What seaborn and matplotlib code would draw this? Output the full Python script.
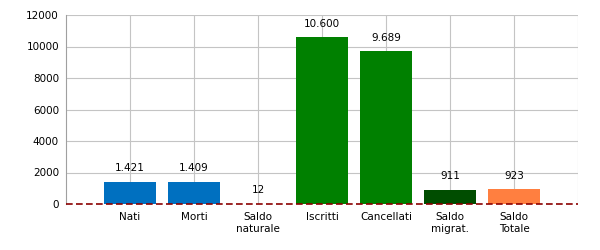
import matplotlib
matplotlib.use("Agg")
import matplotlib.pyplot as plt
import seaborn as sns
import pandas as pd

categories = ["Nati", "Morti", "Saldo\nnaturale", "Iscritti", "Cancellati", "Saldo\nmigrat.", "Saldo\nTotale"]
values = [1421, 1409, 12, 10600, 9689, 911, 923]
labels = ["1.421", "1.409", "12", "10.600", "9.689", "911", "923"]
colors = ["#0070C0", "#0070C0", "#800000", "#008000", "#008000", "#004D00", "#FF7F40"]
yticks = [0, 2000, 4000, 6000, 8000, 10000, 12000]

sns.set_style("white")
plt.rcParams["font.family"] = ["DejaVu Sans"]

df = pd.DataFrame({"cat": categories, "val": values})

fig = plt.figure(figsize=(6, 2.5), dpi=100)
ax = fig.add_axes([66/600, 1-204/250, 512/600, 189/250])

sns.barplot(data=df, x="cat", y="val", hue="cat", palette=colors, legend=False,
            width=0.8, saturation=1, ax=ax, zorder=2, linewidth=0)

ax.set_xlim(-1, 7)
ax.set_ylim(0, 12000)
ax.set_yticks(yticks)
ax.set_yticklabels([str(t) for t in yticks], fontsize=7.5)
ax.set_xticks(range(len(categories)))
ax.set_xticklabels(categories, fontsize=7.5, linespacing=1.15)
ax.set_xlabel("")
ax.set_ylabel("")

# grid
for t in yticks:
    ax.axhline(t, color="#C4C4C4", lw=0.8, zorder=0)
for i in list(range(len(categories))) + [7]:
    ax.axvline(i, color="#C4C4C4", lw=0.8, zorder=0)

for side in ["top", "right", "bottom"]:
    ax.spines[side].set_visible(False)
ax.spines["left"].set_color("#A0A0A0")
ax.spines["left"].set_linewidth(0.8)

ax.tick_params(axis="y", length=3, width=0.8, color="#333333", pad=2, labelcolor="black")
ax.tick_params(axis="x", length=3, width=0.8, color="#333333", pad=3, labelcolor="black", direction="out")

# zero line dashed dark red
ax.axhline(0, color="#8B0000", lw=1.2, ls=(0, (4, 2)), zorder=3, clip_on=False)

for i, (v, lab) in enumerate(zip(values, labels)):
    ax.annotate(lab, (i, v), xytext=(0, 6), textcoords="offset points",
                ha="center", va="bottom", fontsize=7.5, color="black")

fig.savefig("out.png", dpi=100)
